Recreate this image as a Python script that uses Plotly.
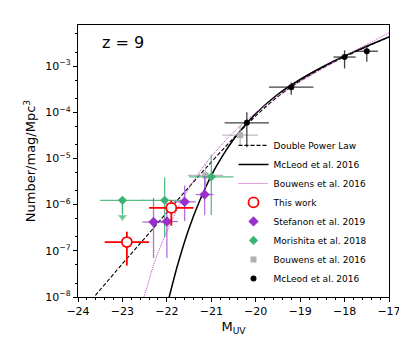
import plotly.graph_objects as go

# ---- model curves ----
dpl_M = [-23.7, -23.0, -22.5, -22.0, -21.5, -21.0, -20.5, -20.0, -19.5, -19.0, -18.5, -18.0, -17.5, -17.0]
dpl_logphi = [-8.07, -7.28, -6.73, -6.17, -5.62, -5.08, -4.56, -4.08, -3.66, -3.32, -3.04, -2.80, -2.58, -2.37]

mcleod_fit_M = [-22.0, -21.95, -21.75, -21.5, -21.25, -21.0, -20.75, -20.5, -20.25, -20.0, -19.5, -19.0, -18.5, -18.0, -17.5, -17.0]
mcleod_fit_logphi = [-8.2, -8.01, -7.28, -6.51, -5.89, -5.37, -4.95, -4.59, -4.29, -4.03, -3.61, -3.29, -3.02, -2.78, -2.57, -2.37]

bouwens_fit_M = [-22.6, -22.5, -22.25, -22.0, -21.75, -21.5, -21.25, -21.0, -20.5, -20.0, -19.5, -19.0, -18.5, -18.0, -17.5, -17.0]
bouwens_fit_logphi = [-8.24, -7.95, -7.17, -6.58, -6.07, -5.64, -5.27, -4.96, -4.43, -4.01, -3.65, -3.34, -3.06, -2.79, -2.53, -2.28]

# ---- data points ----
this_M = [-22.9, -21.9]
this_phi = [1.55e-7, 8.5e-7]
this_lo = [4.8e-8, 3.5e-7]
this_hi = [2.6e-7, 1.24e-6]
this_dM = [0.5, 0.5]

stef_M = [-22.3, -22.0, -21.6, -21.15]
stef_phi = [4.2e-7, 4.3e-7, 1.15e-6, 1.65e-6]
stef_lo = [7e-8, 7e-8, 4.4e-7, 5.9e-7]
stef_hi = [1.4e-6, 1.1e-6, 2.6e-6, 4.1e-6]
stef_dM = [0.25, 0.25, 0.25, 0.2]

mori_M = [-22.05, -21.0]
mori_phi = [1.24e-6, 4.0e-6]
mori_lo = [2e-7, 6e-7]
mori_hi = [3.9e-6, 1.2e-5]
mori_dM = [0.5, 0.5]
# upper limit
mori_ul_M = [-23.0]
mori_ul_phi = [1.24e-6]
mori_ul_end = [5.4e-7]
mori_ul_dM = [0.5]

bouw_M = [-21.13, -20.35]
bouw_phi = [4.3e-6, 3.2e-5]
bouw_lo = [2.3e-6, 1.9e-5]
bouw_hi = [7.4e-6, 5.1e-5]
bouw_dM = [0.4, 0.4]

mcl_M = [-20.2, -19.2, -18.0, -17.5]
mcl_phi = [5.9e-5, 3.5e-4, 1.57e-3, 2.1e-3]
mcl_lo = [1.75e-5, 2.4e-4, 8.9e-4, 1.24e-3]
mcl_hi = [1.0e-4, 4.4e-4, 2.2e-3, 2.75e-3]
mcl_dM = [0.5, 0.5, 0.25, 0.25]

GREEN = "#3cb371"
PURPLE = "#9932cc"


def errs(phi, lo, hi):
    return [h - p for p, h in zip(phi, hi)], [p - l for p, l in zip(phi, lo)]


def points(M, phi, lo, hi, dM, name, color, ecolor, symbol, size, rank, ewidth=1.3, **mk):
    up, dn = errs(phi, lo, hi)
    return go.Scatter(
        x=M, y=phi, mode="markers", name=name, legendrank=rank,
        marker=dict(symbol=symbol, size=size, color=color, **mk),
        error_x=dict(type="data", array=dM, color=ecolor, thickness=ewidth, width=0),
        error_y=dict(type="data", array=up, arrayminus=dn, color=ecolor, thickness=ewidth, width=0),
    )


fig = go.Figure()

fig.add_trace(go.Scatter(x=dpl_M, y=[10 ** v for v in dpl_logphi], mode="lines",
                         name="Double Power Law", legendrank=1,
                         line=dict(color="black", width=1.1, dash="4px,2px", shape="spline")))
fig.add_trace(go.Scatter(x=mcleod_fit_M, y=[10 ** v for v in mcleod_fit_logphi], mode="lines",
                         name="McLeod et al. 2016", legendrank=2,
                         line=dict(color="black", width=1.5, shape="spline")))
fig.add_trace(go.Scatter(x=bouwens_fit_M, y=[10 ** v for v in bouwens_fit_logphi], mode="lines",
                         name="Bouwens et al. 2016", legendrank=3,
                         line=dict(color="#c040c0", width=1, dash="1px,1px", shape="spline")))

fig.add_trace(points(bouw_M, bouw_phi, bouw_lo, bouw_hi, bouw_dM, "Bouwens et al. 2016",
                     "#b0b0b0", "rgba(170,170,170,0.8)", "square", 6, 7))
fig.add_trace(points(mori_M, mori_phi, mori_lo, mori_hi, mori_dM, "Morishita et al. 2018",
                     GREEN, "rgba(60,179,113,0.85)", "diamond", 7, 6))
# Morishita upper limit: bar plus arrow
fig.add_trace(go.Scatter(x=mori_ul_M, y=mori_ul_phi, mode="markers", showlegend=False,
                         marker=dict(symbol="diamond", size=7, color=GREEN),
                         error_x=dict(type="data", array=mori_ul_dM, color="rgba(60,179,113,0.85)",
                                      thickness=1.3, width=0)))
fig.add_trace(go.Scatter(x=mori_ul_M * 2, y=mori_ul_phi + mori_ul_end, mode="lines+markers",
                         showlegend=False, line=dict(color=GREEN, width=1.3),
                         marker=dict(symbol=["circle", "triangle-down"], size=[0, 9], color=GREEN)))
fig.add_trace(points(stef_M, stef_phi, stef_lo, stef_hi, stef_dM, "Stefanon et al. 2019",
                     PURPLE, "rgba(153,50,204,0.7)", "diamond", 8, 5))
fig.add_trace(points(mcl_M, mcl_phi, mcl_lo, mcl_hi, mcl_dM, "McLeod et al. 2016",
                     "black", "rgba(0,0,0,0.75)", "circle", 6, 8))
fig.add_trace(points(this_M, this_phi, this_lo, this_hi, this_dM, "This work",
                     "white", "red", "circle", 10, 4, ewidth=1.8,
                     line=dict(color="red", width=1.8)))

tick_vals = [1e-8, 1e-7, 1e-6, 1e-5, 1e-4, 1e-3]
tick_text = ["10<sup>\u22128</sup>", "10<sup>\u22127</sup>", "10<sup>\u22126</sup>",
             "10<sup>\u22125</sup>", "10<sup>\u22124</sup>", "10<sup>\u22123</sup>"]
x_ticks = [-24, -23, -22, -21, -20, -19, -18, -17]

fig.update_layout(
    width=407, height=339,
    margin=dict(l=70, r=26, t=17, b=50),
    plot_bgcolor="white", paper_bgcolor="white",
    font=dict(family="DejaVu Sans", size=11, color="black"),
    legend=dict(x=0.50, xanchor="left", y=0.015, yanchor="bottom",
                bgcolor="rgba(0,0,0,0)", font=dict(size=9), itemwidth=30,
                traceorder="normal"),
    annotations=[dict(text="z = 9", x=0.07, y=0.935, xref="paper", yref="paper",
                      xanchor="left", yanchor="middle", showarrow=False,
                      font=dict(size=16))],
)
fig.update_xaxes(
    range=[-24, -17], tickvals=x_ticks, ticktext=[f"\u2212{abs(v)}" for v in x_ticks],
    showgrid=False, zeroline=False, showline=True, linecolor="black", linewidth=1.2, mirror=True,
    ticks="outside", ticklen=4, tickcolor="black",
    minor=dict(dtick=0.2, ticks="outside", ticklen=2, tickcolor="black"),
    title=dict(text="M<sub>UV</sub>", standoff=4),
)
fig.update_yaxes(
    type="log", range=[-8, -2.11], tickvals=tick_vals, ticktext=tick_text,
    showgrid=False, zeroline=False, showline=True, linecolor="black", linewidth=1.2, mirror=True,
    ticks="outside", ticklen=4, tickcolor="black",
    minor=dict(ticks="outside", ticklen=2, tickcolor="black", showgrid=False),
    title=dict(text="Number/mag/Mpc<sup>3</sup>", standoff=6),
)

fig.write_html("out.html")
